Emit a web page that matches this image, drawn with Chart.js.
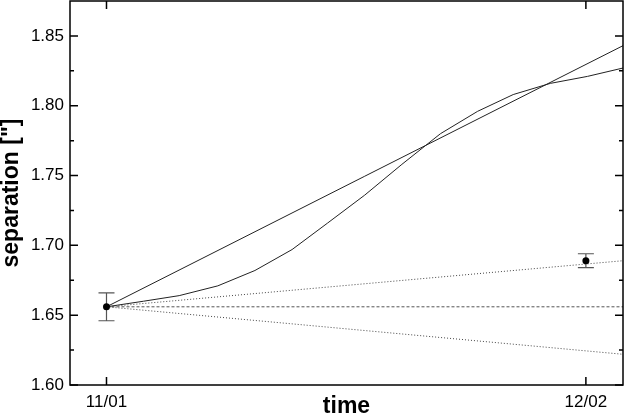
<!DOCTYPE html>
<html>
<head>
<meta charset="utf-8">
<script src="https://cdn.jsdelivr.net/npm/chart.js@4.4.1/dist/chart.umd.min.js"></script>
<style>
  html, body { margin: 0; padding: 0; background: #fff; }
  #wrap { width: 624px; height: 418px; }
</style>
</head>
<body>
<div id="wrap"><canvas id="sepChart"></canvas></div>
<script>
// days since 11/01
const xTickDays = [0, 31];
const xTickLabels = ['11/01', '12/02'];
const yTicks = [1.60, 1.65, 1.70, 1.75, 1.80, 1.85];

// model curve (bent)
const curveDays = [0, 2.4, 4.7, 7.2, 9.6, 12.0, 14.3, 16.7, 19.1, 21.6, 24.0, 26.3, 28.7, 31.1, 33.4];
const curveSep  = [1.656, 1.660, 1.664, 1.671, 1.682, 1.697, 1.716, 1.736, 1.758, 1.780, 1.796, 1.808, 1.816, 1.821, 1.827];

// straight model lines
const lineDays  = [0, 33.4];
const straightSep = [1.656, 1.843];
const upperSep  = [1.656, 1.689];
const flatSep   = [1.656, 1.656];
const lowerSep  = [1.656, 1.622];

// measurements
const obsDays = [0, 31];
const obsSep  = [1.656, 1.689];
const obsErr  = [0.010, 0.005];

const pts = (xs, ys) => xs.map((x, i) => ({ x: x, y: ys[i] }));

const lineSet = (data, color, dash) => ({
    type: 'scatter',
    data: data,
    showLine: true,
    borderColor: color,
    borderWidth: 1,
    borderDash: dash,
    pointRadius: 0,
    fill: false,
    tension: 0
});

// error bars, frame and inward ticks
const framePlugin = {
    id: 'frame',
    afterDatasetsDraw(chart) {
        const ctx = chart.ctx;
        const xs = chart.scales.x, ys = chart.scales.y;
        ctx.save();
        ctx.strokeStyle = '#555';
        ctx.lineWidth = 1.2;
        obsDays.forEach((d, i) => {
            const px = xs.getPixelForValue(d);
            const top = ys.getPixelForValue(obsSep[i] + obsErr[i]);
            const bot = ys.getPixelForValue(obsSep[i] - obsErr[i]);
            ctx.beginPath();
            ctx.moveTo(px, top); ctx.lineTo(px, bot);
            ctx.moveTo(px - 8, top); ctx.lineTo(px + 8, top);
            ctx.moveTo(px - 8, bot); ctx.lineTo(px + 8, bot);
            ctx.stroke();
        });
        ctx.fillStyle = '#000';
        obsDays.forEach((d, i) => {
            ctx.beginPath();
            ctx.arc(xs.getPixelForValue(d), ys.getPixelForValue(obsSep[i]), 3.5, 0, Math.PI * 2);
            ctx.fill();
        });
        ctx.restore();
    },
    afterDraw(chart) {
        const ctx = chart.ctx;
        const a = chart.chartArea;
        const xs = chart.scales.x, ys = chart.scales.y;
        ctx.save();
        ctx.strokeStyle = '#000';
        ctx.lineWidth = 1.5;
        ctx.strokeRect(a.left, a.top, a.right - a.left, a.bottom - a.top);
        ctx.beginPath();
        xTickDays.forEach(d => {
            const px = xs.getPixelForValue(d);
            ctx.moveTo(px, a.bottom); ctx.lineTo(px, a.bottom - 8);
            ctx.moveTo(px, a.top); ctx.lineTo(px, a.top + 8);
        });
        yTicks.forEach((v, i) => {
            const py = ys.getPixelForValue(v);
            ctx.moveTo(a.left, py); ctx.lineTo(a.left + 8, py);
            ctx.moveTo(a.right, py); ctx.lineTo(a.right - 8, py);
            const mv = v + 0.025;
            if (mv < ys.max) {
                const pm = ys.getPixelForValue(mv);
                ctx.moveTo(a.left, pm); ctx.lineTo(a.left + 4, pm);
                ctx.moveTo(a.right, pm); ctx.lineTo(a.right - 4, pm);
            }
        });
        ctx.stroke();
        ctx.restore();
    }
};

new Chart(document.getElementById('sepChart'), {
    type: 'scatter',
    data: {
        datasets: [
            lineSet(pts(curveDays, curveSep), '#222', []),
            lineSet(pts(lineDays, straightSep), '#222', []),
            lineSet(pts(lineDays, upperSep), '#444', [1, 2]),
            lineSet(pts(lineDays, flatSep), '#555', [3, 2]),
            lineSet(pts(lineDays, lowerSep), '#444', [1, 2])
        ]
    },
    options: {
        responsive: true,
        maintainAspectRatio: false,
        animation: false,
        layout: { padding: { top: 1, right: 1, left: 0, bottom: 0 } },
        plugins: { legend: { display: false }, tooltip: { enabled: false } },
        scales: {
            x: {
                type: 'linear',
                min: -2.36,
                max: 33.4,
                grid: { display: false, drawTicks: false },
                border: { display: false },
                afterBuildTicks: s => { s.ticks = xTickDays.map(v => ({ value: v })); },
                afterFit: s => { s.height = 33; s.paddingLeft = 0; s.paddingRight = 0; },
                ticks: {
                    padding: 7,
                    color: '#000',
                    font: { family: 'Liberation Sans', size: 17 },
                    callback: v => xTickLabels[xTickDays.indexOf(v)] || ''
                },
                title: {
                    display: true,
                    text: 'time',
                    color: '#000',
                    padding: 0,
                    font: { family: 'Liberation Sans', size: 23, weight: 'bold', lineHeight: 1 }
                }
            },
            y: {
                min: 1.60,
                max: 1.875,
                grid: { display: false, drawTicks: false },
                border: { display: false },
                afterBuildTicks: s => { s.ticks = yTicks.map(v => ({ value: v })); },
                afterFit: s => { s.width = 70; s.paddingTop = 0; s.paddingBottom = 0; },
                ticks: {
                    padding: 6,
                    color: '#000',
                    font: { family: 'Liberation Sans', size: 17 },
                    callback: v => v.toFixed(2)
                },
                title: {
                    display: true,
                    text: 'separation ["]',
                    color: '#000',
                    padding: { top: 0, bottom: 0 },
                    font: { family: 'Liberation Sans', size: 23, weight: 'bold', lineHeight: 1 }
                }
            }
        }
    },
    plugins: [framePlugin]
});
</script>
</body>
</html>
